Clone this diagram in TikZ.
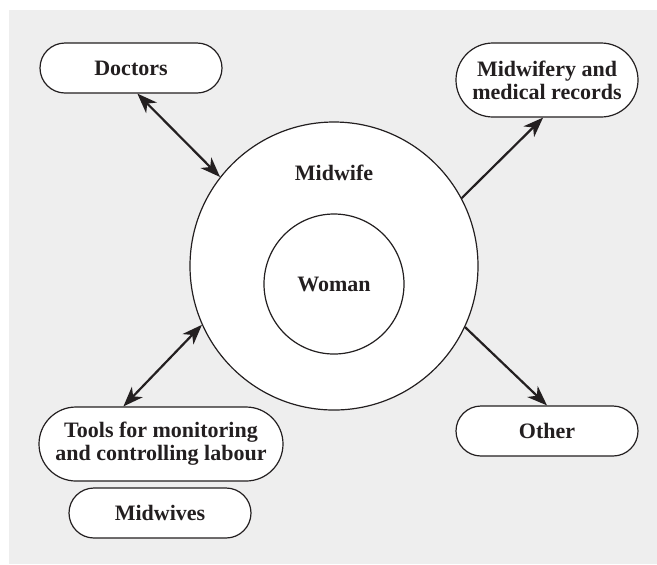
\documentclass[tikz,border=0pt]{standalone}
\usepackage{fontspec}
\setmainfont{Liberation Serif}
\usetikzlibrary{arrows.meta}
\definecolor{panel}{HTML}{EEEEEE}
\definecolor{ink}{HTML}{231F20}
\tikzstyle{label}=[text=ink,font=\bfseries\fontsize{11}{11.5}\selectfont]
\tikzstyle{pill}=[label,draw=ink,fill=white,line width=0.6pt,rounded corners=12.5pt,minimum width=91pt,minimum height=25pt,inner sep=0pt,align=center]
\tikzstyle{bigpill}=[pill,rounded corners=18.5pt,minimum height=37pt]
\tikzstyle{ring}=[label,circle,draw=ink,fill=white,line width=0.6pt,inner sep=0pt]
\tikzstyle{link}=[line width=1.1pt,draw=ink,>={Stealth[length=10pt,width=7.5pt,inset=3pt]}]

\begin{document}
\begin{tikzpicture}[x=0.5pt,y=-0.5pt]
\useasboundingbox (0,0) rectangle (657,564);
\fill[panel] (9,10) rectangle (657,564);

% circles
\node[ring,minimum size=144pt] (midwife) at (334,266) {};
\node[ring,minimum size=70pt] (woman) at (334,284) {Woman};
\node[label] (midwifetext) at (334,173) {Midwife};

% boxes
\node[pill] (doctors) at (131,68) {Doctors};
\node[bigpill] (records) at (547,80) {Midwifery and\\medical records};
\node[bigpill,minimum width=122pt] (tools) at (161,444) {Tools for monitoring\\and controlling labour};
\node[pill] (midwives) at (160,513) {Midwives};
\node[pill] (other) at (547,431) {Other};

% edges
\draw[link,<->] (doctors.-76) -- (midwife.142);
\draw[link,->] (midwife.28) -- (records.-96);
\draw[link,<->] (tools.135) -- (midwife.204);
\draw[link,->] (midwife.-25) -- (other.north);

\end{tikzpicture}
\end{document}
